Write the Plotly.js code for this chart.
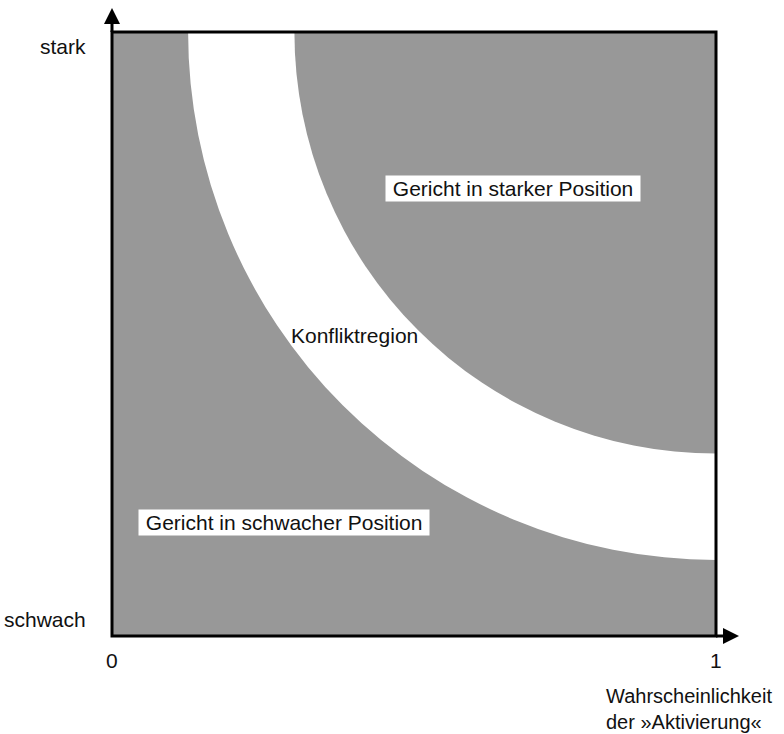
<!DOCTYPE html>
<html>
<head>
<meta charset="utf-8">
<script src="https://cdn.plot.ly/plotly-3.0.1.min.js"></script>
<style>html,body{margin:0;padding:0;background:#fff;}#chart{width:784px;height:734px;}</style>
</head>
<body>
<div id="chart"></div>
<script>
// ---- data ----
const regionLabels = ['Gericht in schwacher Position', 'Konfliktregion', 'Gericht in starker Position'];
// radii (data units) of the two arcs centred on the corner (1,1):
// outer edge of the white conflict band, inner edge of the white conflict band
const bandRadii = [0.874, 0.698];
const bandCenter = [1, 1];
const xTickVals = [0, 1];
const xTickLabels = ['0', '1'];
const yTickLabels = ['schwach', 'stark'];
const xAxisTitle = 'Wahrscheinlichkeit<br>der \u00bbAktivierung\u00ab';

// ---- styling ----
const GRAY = '#989898';
const FONT = {family: 'Liberation Sans, Arial, sans-serif', size: 21, color: '#111'};
const TITLE_FONT = {family: 'Liberation Sans, Arial, sans-serif', size: 20, color: '#111'};
const W = 784, H = 734, L = 112, R = 68, T = 32, B = 98;
const PW = W - L - R, PH = H - T - B;
const px = v => (v - L) / PW;          // pixel x -> paper
const py = v => (H - B - v) / PH;      // pixel y -> paper

const shapes = [];
// white conflict band, then gray strong-position region (clipped to plot area)
const fills = ['#ffffff', GRAY];
bandRadii.forEach((r, i) => {
  shapes.push({type: 'circle', xref: 'x', yref: 'y', layer: 'above',
    x0: bandCenter[0] - r, x1: bandCenter[0] + r, y0: bandCenter[1] - r, y1: bandCenter[1] + r,
    fillcolor: fills[i], line: {width: 0}});
});
// frame
shapes.push({type: 'rect', xref: 'paper', yref: 'paper', x0: 0, x1: 1, y0: 0, y1: 1,
  line: {color: '#000', width: 3}, fillcolor: 'rgba(0,0,0,0)', layer: 'above'});
// axis extensions and arrow heads
const aLen = 16, aHalf = 8;
shapes.push({type: 'line', xref: 'paper', yref: 'paper', x0: 0, x1: 0, y0: 1, y1: py(T - 10), line: {color: '#000', width: 3}});
shapes.push({type: 'path', xref: 'paper', yref: 'paper', fillcolor: '#000', line: {width: 0},
  path: `M ${px(L - aHalf)},${py(T - 8)} L ${px(L)},${py(T - 8 - aLen)} L ${px(L + aHalf)},${py(T - 8)} Z`});
shapes.push({type: 'line', xref: 'paper', yref: 'paper', x0: 1, x1: px(W - R + 8), y0: 0, y1: 0, line: {color: '#000', width: 3}});
shapes.push({type: 'path', xref: 'paper', yref: 'paper', fillcolor: '#000', line: {width: 0},
  path: `M ${px(W - R + 7)},${py(H - B - aHalf)} L ${px(W - R + 7 + aLen)},${py(H - B)} L ${px(W - R + 7)},${py(H - B + aHalf)} Z`});

const nb = '\u00a0';
const annotations = [
  {x: 0.6647, y: 0.7412, text: nb + regionLabels[2] + nb, bgcolor: '#fff', borderpad: 1},
  {x: 0.4007, y: 0.4983, text: regionLabels[1]},
  {x: 0.2844, y: 0.1871, text: nb + regionLabels[0] + nb, bgcolor: '#fff', borderpad: 1},
].map(a => Object.assign({xref: 'x', yref: 'y', showarrow: false, font: FONT, xanchor: 'center', yanchor: 'middle'}, a));

annotations.push({xref: 'paper', yref: 'paper', x: px(88), y: py(47), text: yTickLabels[1], showarrow: false, font: FONT, xanchor: 'right', yanchor: 'middle'});
annotations.push({xref: 'paper', yref: 'paper', x: px(88), y: py(619), text: yTickLabels[0], showarrow: false, font: FONT, xanchor: 'right', yanchor: 'middle'});
xTickVals.forEach((v, i) => {
  annotations.push({xref: 'x', yref: 'paper', x: v, y: py(660), text: xTickLabels[i], showarrow: false, font: FONT, xanchor: 'center', yanchor: 'middle'});
});
annotations.push({xref: 'paper', yref: 'paper', x: px(604), y: py(683), text: xAxisTitle, showarrow: false, font: TITLE_FONT, xanchor: 'left', yanchor: 'top', align: 'left'});

const layout = {
  width: W, height: H,
  margin: {l: L, r: R, t: T, b: B, pad: 0},
  paper_bgcolor: '#fff', plot_bgcolor: GRAY,
  showlegend: false,
  xaxis: {range: [0, 1], showgrid: false, zeroline: false, showticklabels: false, ticks: '', showline: false, fixedrange: true},
  yaxis: {range: [0, 1], showgrid: false, zeroline: false, showticklabels: false, ticks: '', showline: false, fixedrange: true},
  shapes: shapes,
  annotations: annotations,
  font: FONT
};

Plotly.newPlot('chart', [{x: [], y: [], type: 'scatter', mode: 'markers', hoverinfo: 'skip'}], layout, {displayModeBar: false, staticPlot: true});
</script>
</body>
</html>
